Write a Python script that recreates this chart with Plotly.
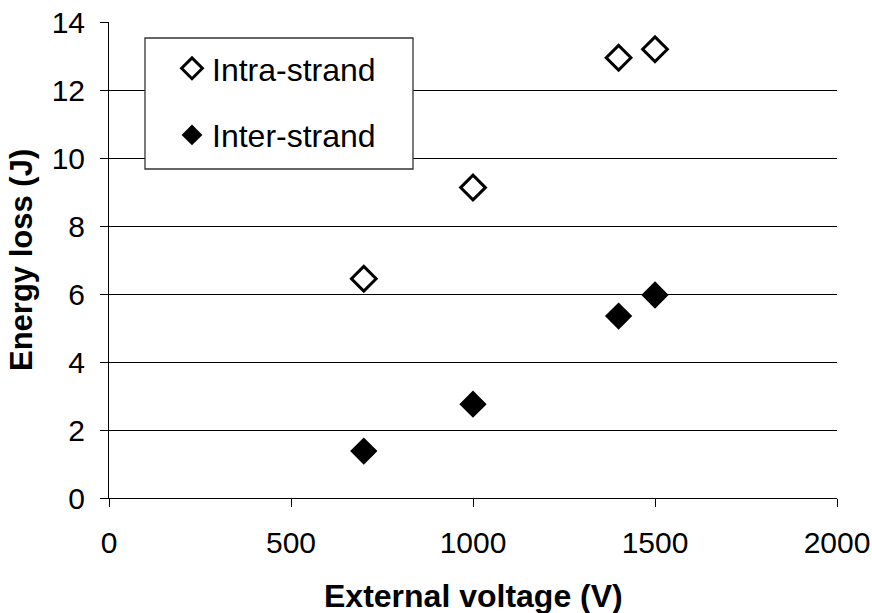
import plotly.graph_objects as go

# ---- data ----
voltage = [700, 1000, 1400, 1500]
intra_strand = [6.45, 9.13, 12.95, 13.2]
inter_strand = [1.38, 2.76, 5.35, 5.97]
x_ticks = [0, 500, 1000, 1500, 2000]
y_ticks = [0, 2, 4, 6, 8, 10, 12, 14]
series_names = ["Intra-strand", "Inter-strand"]
x_title = "External voltage (V)"
y_title = "Energy loss (J)"

W, H = 872, 613
ML, MR, MT, MB = 109, 35, 22, 115
FONT = "Liberation Sans, Arial, sans-serif"

fig = go.Figure()
fig.add_trace(go.Scatter(
    x=voltage, y=intra_strand, mode="markers", name=series_names[0],
    legendgroup="a",
    marker=dict(symbol="diamond-open", size=19, color="black",
                line=dict(width=3, color="black")),
))
fig.add_trace(go.Scatter(
    x=voltage, y=inter_strand, mode="markers", name=series_names[1],
    legendgroup="b",
    marker=dict(symbol="diamond", size=21, color="black",
                line=dict(width=0)),
))

pw = W - ML - MR
ph = H - MT - MB
# legend frame (pixel -> paper)
bx0, bx1, by0, by1 = 145, 413, 38, 169
fig.add_shape(
    type="rect", xref="paper", yref="paper",
    x0=(bx0 - ML) / pw, x1=(bx1 - ML) / pw,
    y0=(H - MB - by1) / ph, y1=(H - MB - by0) / ph,
    line=dict(color="#333333", width=1.3), fillcolor="white", layer="above",
)

# axis titles
fig.add_annotation(
    text="<b>" + x_title + "</b>", xref="paper", yref="paper",
    x=0.5, y=(H - MB - 596) / ph, xanchor="center", yanchor="middle",
    showarrow=False, font=dict(family=FONT, size=32, color="black"),
)
fig.add_annotation(
    text="<b>" + y_title + "</b>", xref="paper", yref="paper",
    x=(21 - ML) / pw, y=0.5, xanchor="center", yanchor="middle",
    textangle=-90, showarrow=False,
    font=dict(family=FONT, size=31, color="black"),
)

fig.update_layout(
    width=W, height=H,
    margin=dict(l=ML, r=MR, t=MT, b=MB, autoexpand=False),
    paper_bgcolor="white", plot_bgcolor="white",
    font=dict(family=FONT, color="black"),
    showlegend=True,
    legend=dict(
        xref="container", yref="container",
        x=172 / W, y=1 - 41 / H, xanchor="left", yanchor="top",
        bgcolor="rgba(0,0,0,0)", borderwidth=0,
        font=dict(family=FONT, size=32, color="black"),
        tracegroupgap=22, itemsizing="trace",
    ),
    xaxis=dict(
        range=[0, 2000], autorange=False,
        tickvals=x_ticks, ticktext=[str(v) for v in x_ticks],
        ticks="outside", ticklen=8, tickwidth=1, tickcolor="black",
        showline=True, linecolor="black", linewidth=1,
        showgrid=False, zeroline=False,
        tickfont=dict(family=FONT, size=30, color="black"),
        ticklabelstandoff=10,
    ),
    yaxis=dict(
        range=[0, 14], autorange=False,
        tickvals=y_ticks, ticktext=[str(v) for v in y_ticks],
        ticks="outside", ticklen=8, tickwidth=1, tickcolor="black",
        showline=True, linecolor="black", linewidth=1,
        showgrid=True, gridcolor="black", gridwidth=1,
        zeroline=False,
        tickfont=dict(family=FONT, size=30, color="black"),
        ticklabelstandoff=9,
    ),
)

fig.write_html("out.html")
